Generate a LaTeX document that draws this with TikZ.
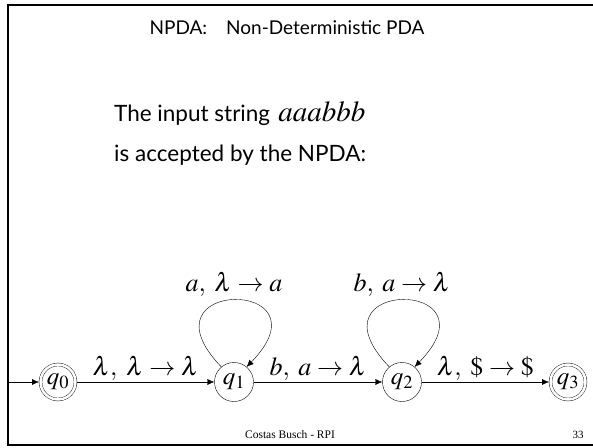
\documentclass[tikz,border=0pt]{standalone}
\usepackage{mathptmx}
\usepackage[no-math]{fontspec}
\setmainfont{Lato}
\newfontfamily\footfont{Liberation Serif}
\usetikzlibrary{arrows.meta}

\tikzset{
  qstate/.style={circle,draw,thin,minimum size=39pt,inner sep=0pt,font=\fontsize{25}{28}\selectfont},
  qaccept/.style={qstate,double,double distance=2.5pt,minimum size=35pt,outer sep=1.5pt},
  trans/.style={draw,thin,-{Latex[length=7pt,width=6pt]}},
  tlabel/.style={font=\fontsize{26}{28}\selectfont,inner sep=1pt},
  bodytext/.style={font=\fontsize{22.5}{26}\selectfont,anchor=base west}
}

\begin{document}
\begin{tikzpicture}[x=1pt,y=1pt]
  \useasboundingbox (0,0) rectangle (593,447);

  % slide frame
  \draw[line width=2pt] (593,442) -- (8,442) -- (8,2) -- (593,2);

  \node[font=\fontsize{19}{22}\selectfont] (title) at (287,419) {NPDA:\quad Non-Deterministic PDA};
  \node[bodytext,inner sep=0pt] (input) at (114,325) {The input string};
  \node[bodytext,inner sep=0pt,font=\fontsize{29}{32}\selectfont] (word) at ([xshift=8pt]input.base east) {$aaabbb$};
  \node[bodytext,inner sep=0pt] (accept) at (114,285) {is accepted by the NPDA:};

  \node[qaccept] (q0) at (58,65) {$q_0$};
  \node[qstate]  (q1) at (234,65) {$q_1$};
  \node[qstate]  (q2) at (402,65) {$q_2$};
  \node[qaccept] (q3) at (568,65) {$q_3$};
  \coordinate (start) at (8,65);

  \draw[trans] (start) -- (q0);
  \draw[trans] (q0) -- (q1) node[tlabel,midway,above] {$\lambda,\;\lambda\rightarrow\lambda$};
  \draw[trans] (q1) -- (q2) node[tlabel,midway,above] {$b,\;a\rightarrow\lambda$};
  \draw[trans] (q2) -- (q3) node[tlabel,midway,above] {$\lambda,\;\$\rightarrow\$$};

  % self loops
  \draw[trans] (q1.130) .. controls +(134:124) and +(46:124) .. (q1.50)
    node[tlabel,pos=0.5,above=2pt] {$a,\;\lambda\rightarrow a$};
  \draw[trans] (q2.130) .. controls +(134:124) and +(46:124) .. (q2.50)
    node[tlabel,pos=0.5,above=2pt] {$b,\;a\rightarrow\lambda$};

  \node[font=\footfont\fontsize{11.5}{13}\selectfont] (foot) at (290,12) {Costas Busch - RPI};
  \node[font=\footfont\fontsize{11}{13}\selectfont] (page) at (578,12) {33};
\end{tikzpicture}
\end{document}
